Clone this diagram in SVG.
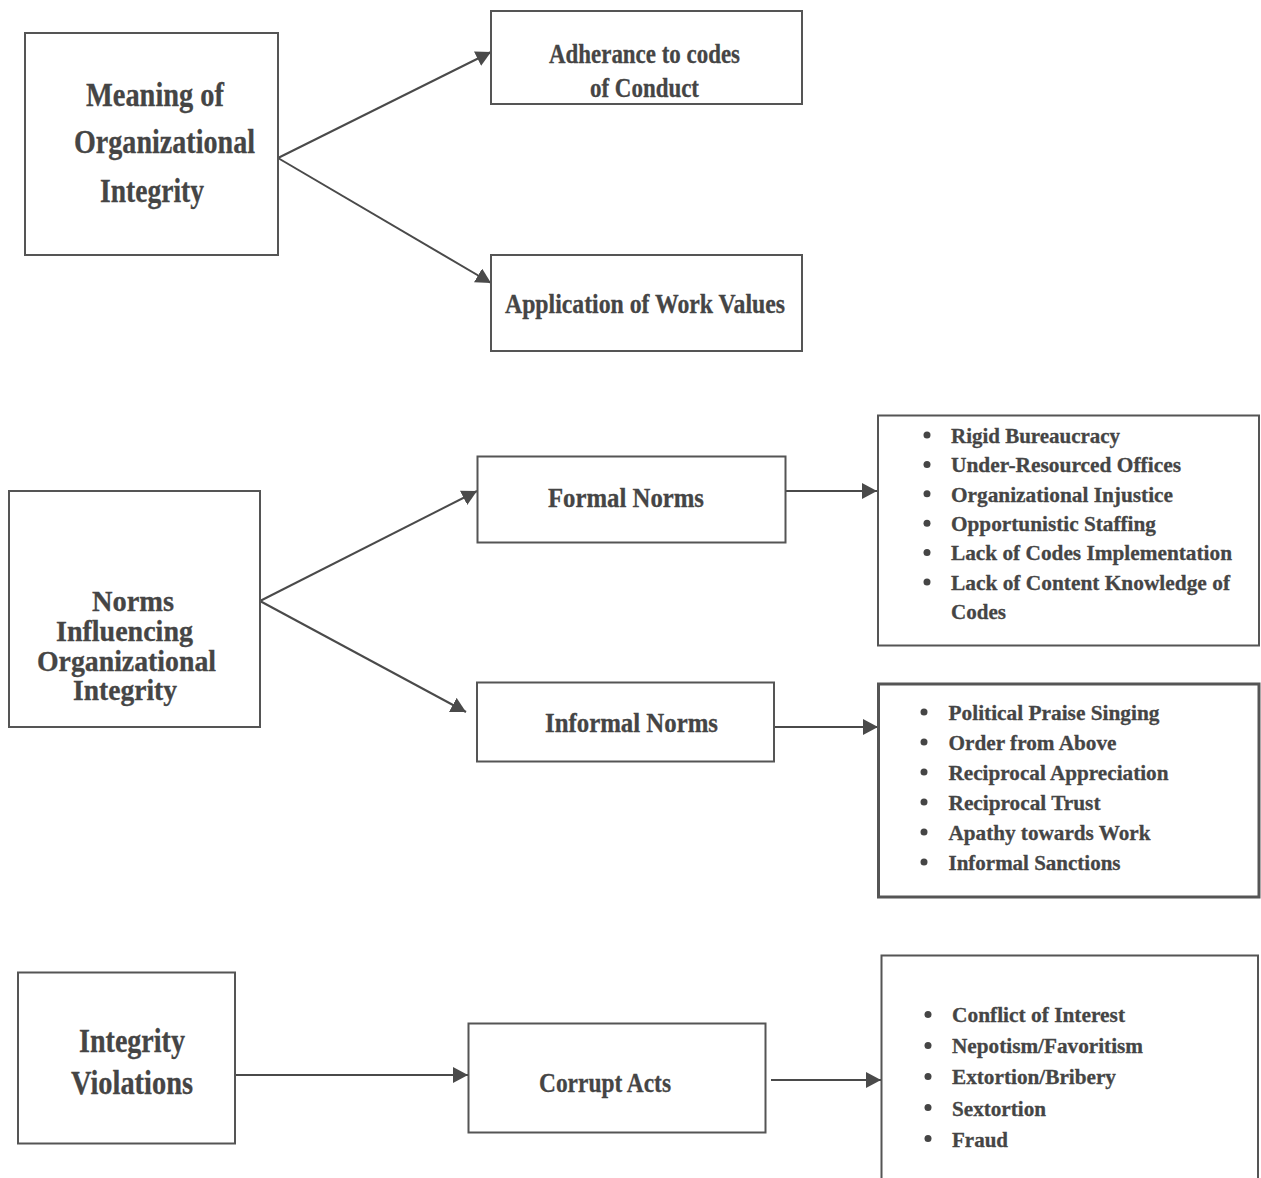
<svg xmlns="http://www.w3.org/2000/svg" width="1261" height="1178" viewBox="0 0 1261 1178">
  <style>
    .box { fill: #ffffff; stroke: #555555; stroke-width: 2; }
    .thick { stroke-width: 3; }
    .lbl { font-family: "Liberation Serif", "Times New Roman", serif; font-weight: bold; fill: #454545; stroke: #454545; stroke-width: 0.3; }
    .t34 { font-size: 34px; }
    .t33 { font-size: 33px; }
    .t29 { font-size: 29px; }
    .t28 { font-size: 28px; }
    .t27 { font-size: 27px; }
    .t22 { font-size: 22px; }
    .dot { fill: #454545; }
    .edge { fill: none; stroke: #4a4a4a; stroke-width: 2; marker-end: url(#arrow); }
  </style>
  <defs>
    <marker id="arrow" markerUnits="userSpaceOnUse" markerWidth="16" markerHeight="16" refX="15" refY="8" orient="auto">
      <path d="M0,0 L15,8 L0,16 Z" fill="#4a4a4a"/>
    </marker>
  </defs>

  <rect width="1261" height="1178" fill="#ffffff"/>

  <!-- connectors -->
  <g id="connectors">
    <line class="edge" x1="278" y1="158" x2="491" y2="52"/>
    <line class="edge" x1="278" y1="158" x2="491" y2="283"/>
    <line class="edge" x1="260" y1="601" x2="477" y2="491"/>
    <line class="edge" x1="260" y1="601" x2="466" y2="712"/>
    <line class="edge" x1="786" y1="491" x2="877" y2="491"/>
    <line class="edge" x1="774" y1="727" x2="878" y2="727"/>
    <line class="edge" x1="235" y1="1075" x2="468" y2="1075"/>
    <line class="edge" x1="771" y1="1080" x2="881" y2="1080"/>
  </g>

  <!-- section 1 -->
  <g id="meaning">
    <rect class="box" x="25" y="33" width="253" height="222"/>
    <text class="lbl t34" x="86" y="106" textLength="138" lengthAdjust="spacingAndGlyphs">Meaning of</text>
    <text class="lbl t34" x="74" y="153" textLength="181" lengthAdjust="spacingAndGlyphs">Organizational</text>
    <text class="lbl t34" x="100" y="202" textLength="104" lengthAdjust="spacingAndGlyphs">Integrity</text>
  </g>
  <g id="adherance">
    <rect class="box" x="491" y="11" width="311" height="93"/>
    <text class="lbl t27" x="549" y="63" textLength="191" lengthAdjust="spacingAndGlyphs">Adherance to codes</text>
    <text class="lbl t27" x="590" y="97" textLength="109" lengthAdjust="spacingAndGlyphs">of Conduct</text>
  </g>
  <g id="work-values">
    <rect class="box" x="491" y="255" width="311" height="96"/>
    <text class="lbl t27" x="505" y="313" textLength="280" lengthAdjust="spacingAndGlyphs">Application of Work Values</text>
  </g>

  <!-- section 2 -->
  <g id="norms">
    <rect class="box" x="9" y="491" width="251" height="236"/>
    <text class="lbl t29" x="92" y="611" textLength="82" lengthAdjust="spacingAndGlyphs">Norms</text>
    <text class="lbl t29" x="56" y="641" textLength="137" lengthAdjust="spacingAndGlyphs">Influencing</text>
    <text class="lbl t29" x="37" y="671" textLength="179" lengthAdjust="spacingAndGlyphs">Organizational</text>
    <text class="lbl t29" x="73" y="700" textLength="104" lengthAdjust="spacingAndGlyphs">Integrity</text>
  </g>
  <g id="formal-norms">
    <rect class="box" x="477.5" y="456.5" width="308" height="86"/>
    <text class="lbl t27" x="548" y="507" textLength="156" lengthAdjust="spacingAndGlyphs">Formal Norms</text>
  </g>
  <g id="informal-norms">
    <rect class="box" x="477" y="682.5" width="297" height="79"/>
    <text class="lbl t27" x="545" y="732" textLength="173" lengthAdjust="spacingAndGlyphs">Informal Norms</text>
  </g>
  <g id="formal-list">
    <rect class="box" x="878" y="415.5" width="381" height="230"/>
    <circle class="dot" cx="927" cy="435" r="3.5"/>
    <circle class="dot" cx="927" cy="464.4" r="3.5"/>
    <circle class="dot" cx="927" cy="493.8" r="3.5"/>
    <circle class="dot" cx="927" cy="523.2" r="3.5"/>
    <circle class="dot" cx="927" cy="552.6" r="3.5"/>
    <circle class="dot" cx="927" cy="582" r="3.5"/>
    <text class="lbl t22" x="951" y="442.7" textLength="169" lengthAdjust="spacingAndGlyphs">Rigid Bureaucracy</text>
    <text class="lbl t22" x="951" y="472.1" textLength="230" lengthAdjust="spacingAndGlyphs">Under-Resourced Offices</text>
    <text class="lbl t22" x="951" y="501.5" textLength="222" lengthAdjust="spacingAndGlyphs">Organizational Injustice</text>
    <text class="lbl t22" x="951" y="530.9" textLength="205" lengthAdjust="spacingAndGlyphs">Opportunistic Staffing</text>
    <text class="lbl t22" x="951" y="560.3" textLength="281" lengthAdjust="spacingAndGlyphs">Lack of Codes Implementation</text>
    <text class="lbl t22" x="951" y="589.7" textLength="279" lengthAdjust="spacingAndGlyphs">Lack of Content Knowledge of</text>
    <text class="lbl t22" x="951" y="619.1" textLength="55" lengthAdjust="spacingAndGlyphs">Codes</text>
  </g>
  <g id="informal-list">
    <rect class="box thick" x="878.5" y="684" width="380.5" height="213"/>
    <circle class="dot" cx="924" cy="712" r="3.5"/>
    <circle class="dot" cx="924" cy="742" r="3.5"/>
    <circle class="dot" cx="924" cy="772" r="3.5"/>
    <circle class="dot" cx="924" cy="802" r="3.5"/>
    <circle class="dot" cx="924" cy="832" r="3.5"/>
    <circle class="dot" cx="924" cy="862" r="3.5"/>
    <text class="lbl t22" x="948.5" y="719.5" textLength="211" lengthAdjust="spacingAndGlyphs">Political Praise Singing</text>
    <text class="lbl t22" x="948.5" y="749.5" textLength="168" lengthAdjust="spacingAndGlyphs">Order from Above</text>
    <text class="lbl t22" x="948.5" y="779.5" textLength="220" lengthAdjust="spacingAndGlyphs">Reciprocal Appreciation</text>
    <text class="lbl t22" x="948.5" y="809.5" textLength="152" lengthAdjust="spacingAndGlyphs">Reciprocal Trust</text>
    <text class="lbl t22" x="948.5" y="839.5" textLength="202" lengthAdjust="spacingAndGlyphs">Apathy towards Work</text>
    <text class="lbl t22" x="948.5" y="869.5" textLength="172" lengthAdjust="spacingAndGlyphs">Informal Sanctions</text>
  </g>

  <!-- section 3 -->
  <g id="violations">
    <rect class="box" x="18" y="972.5" width="217" height="171"/>
    <text class="lbl t33" x="79" y="1052" textLength="106" lengthAdjust="spacingAndGlyphs">Integrity</text>
    <text class="lbl t33" x="71" y="1093.5" textLength="122" lengthAdjust="spacingAndGlyphs">Violations</text>
  </g>
  <g id="corrupt-acts">
    <rect class="box" x="468.5" y="1023.5" width="297" height="109"/>
    <text class="lbl t28" x="539" y="1092" textLength="132" lengthAdjust="spacingAndGlyphs">Corrupt Acts</text>
  </g>
  <g id="corrupt-list">
    <path class="box" d="M881.5,1185 V955.5 H1258 V1185" fill="none"/>
    <circle class="dot" cx="928" cy="1014.5" r="3.5"/>
    <circle class="dot" cx="928" cy="1045.5" r="3.5"/>
    <circle class="dot" cx="928" cy="1076.5" r="3.5"/>
    <circle class="dot" cx="928" cy="1107.5" r="3.5"/>
    <circle class="dot" cx="928" cy="1138.5" r="3.5"/>
    <text class="lbl t22" x="952" y="1022" textLength="173" lengthAdjust="spacingAndGlyphs">Conflict of Interest</text>
    <text class="lbl t22" x="952" y="1053" textLength="191" lengthAdjust="spacingAndGlyphs">Nepotism/Favoritism</text>
    <text class="lbl t22" x="952" y="1084" textLength="164" lengthAdjust="spacingAndGlyphs">Extortion/Bribery</text>
    <text class="lbl t22" x="952" y="1115.5" textLength="94" lengthAdjust="spacingAndGlyphs">Sextortion</text>
    <text class="lbl t22" x="952" y="1146.5" textLength="56" lengthAdjust="spacingAndGlyphs">Fraud</text>
  </g>
</svg>
